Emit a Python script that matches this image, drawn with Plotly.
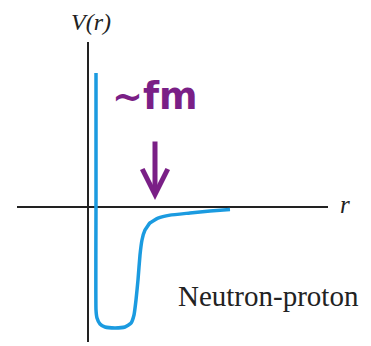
import plotly.graph_objects as go

# neutron-proton potential sketch, r in arbitrary units, V in MeV-ish units
r_vals = [0.2, 0.2, 0.2, 0.225, 0.3, 0.425, 0.675, 0.925, 1.075, 1.15, 1.2, 1.25,
          1.3, 1.35, 1.425, 1.55, 1.75, 2.05, 2.55, 3.05, 3.55]
v_vals = [44.7, 2.3, -34.3, -37.0, -39.0, -40.0, -40.3, -40.0, -38.7, -36.0, -31.0, -24.3,
          -16.0, -11.0, -7.7, -5.3, -3.7, -2.7, -2.0, -1.3, -0.8]

y_label = "V(r)"
x_label = "r"
curve_label = "Neutron-proton"
range_note = "~fm"

fig = go.Figure()
fig.add_trace(go.Scatter(x=r_vals, y=v_vals, mode="lines",
                         line=dict(color="#1b9be0", width=3.5, shape="spline", smoothing=0.4),
                         hoverinfo="skip"))

fig.update_xaxes(range=[-1.775, 6.0], showgrid=False, showticklabels=False, ticks="",
                 zeroline=True, zerolinecolor="#222", zerolinewidth=1.5)
fig.update_yaxes(range=[-45, 55], showgrid=False, showticklabels=False, ticks="",
                 zeroline=True, zerolinecolor="#222", zerolinewidth=1.5)

serif = "Liberation Serif, Times New Roman, serif"
fig.add_annotation(x=0.075, yref="paper", y=1.0667, yanchor="middle",
                   text="<i>" + y_label + "</i>", showarrow=False,
                   font=dict(family=serif, size=24, color="#222"))
fig.add_annotation(xref="paper", x=1.0547, xanchor="center", y=1.0,
                   text="<i>" + x_label + "</i>", showarrow=False,
                   font=dict(family=serif, size=25, color="#222"))
fig.add_annotation(x=2.2, y=-29.7, text=curve_label, showarrow=False,
                   xanchor="left", font=dict(family=serif, size=29, color="#222"))

purple = "#7a1f86"
fig.add_annotation(x=1.675, y=36.7, text="<b>" + range_note + "</b>", showarrow=False,
                   font=dict(family="DejaVu Sans", size=37, color=purple))
fig.add_annotation(x=1.675, y=2.3, ax=0, ay=-60, text="", showarrow=True,
                   arrowhead=5, arrowsize=1, arrowwidth=5, arrowcolor=purple)

# page body adds 8px offset, so the figure is 8px smaller than the window
fig.update_layout(width=363, height=338, margin=dict(l=9, r=43, t=34, b=4),
                  paper_bgcolor="white", plot_bgcolor="white", showlegend=False)

fig.write_html("out.html")
